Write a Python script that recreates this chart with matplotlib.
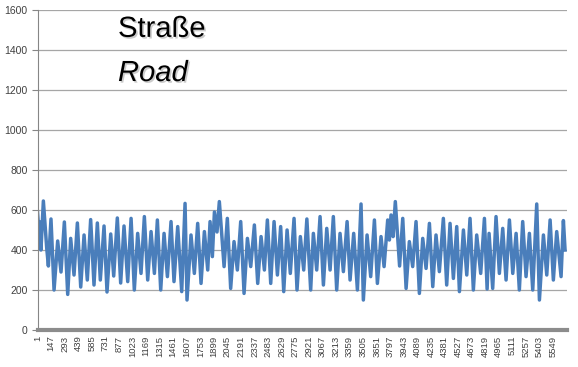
import numpy as np
import matplotlib
matplotlib.use("Agg")
import matplotlib.pyplot as plt
import matplotlib.patheffects as pe

# extremes of the series (category index, value)
ext_idx = [1, 20, 28, 38, 64, 100, 118, 146, 179, 218, 254, 290, 326, 358, 394, 430, 466, 502, 537,
           573, 609, 645, 677, 717, 749, 789, 821, 860, 896, 932,
           972, 1008, 1043, 1079, 1115, 1151, 1187, 1223, 1259, 1291, 1327, 1363, 1399, 1438, 1470,
           1510, 1553, 1589, 1610, 1653, 1689, 1725, 1761, 1797, 1833, 1858, 1883, 1905,
           1933, 1958, 2009, 2044, 2080, 2116, 2152, 2188, 2224, 2260, 2296, 2335, 2371, 2407, 2443,
           2475, 2511, 2547, 2583, 2618, 2651, 2687, 2722, 2762, 2794, 2830, 2866, 2900,
           2941, 2970, 3006, 3042, 3078, 3114, 3150, 3185, 3221, 3257, 3293, 3333, 3365, 3404, 3444,
           3483, 3508, 3548, 3587, 3627, 3659, 3698, 3731, 3770, 3788, 3806, 3828, 3852,
           3898, 3932, 3968, 4003, 4039, 4075, 4111, 4147, 4183, 4219, 4255, 4290, 4326, 4369, 4405,
           4441, 4477, 4513, 4542, 4585, 4621, 4656, 4692, 4728, 4771, 4811,
           4840, 4861, 4900, 4936, 4972, 5008, 5044, 5080, 5116, 5152, 5187, 5223, 5259, 5295, 5331,
           5374, 5403, 5446, 5482, 5518, 5553, 5589, 5636, 5661, 5679]
ext_val = [590, 470, 540, 400, 645, 410, 320, 555, 200, 445, 290, 540, 178, 458, 275, 535, 215, 475, 250,
           552, 225, 535, 250, 520, 190, 480, 270, 560, 235, 520,
           242, 558, 200, 483, 283, 567, 250, 492, 283, 550, 200, 483, 267, 542, 242,
           517, 192, 633, 150, 475, 283, 533, 233, 492, 300, 542, 367, 590,
           490, 642, 317, 558, 208, 442, 300, 542, 183, 458, 317, 525, 233, 467, 300,
           550, 233, 542, 275, 517, 192, 500, 283, 558, 200, 467, 300, 555,
           200, 483, 300, 567, 225, 508, 300, 567, 200, 483, 292, 542, 250, 483, 200,
           630, 150, 475, 267, 550, 233, 467, 317, 550, 450, 575, 467, 642,
           320, 558, 208, 442, 317, 542, 183, 458, 308, 533, 217, 475, 292, 558, 225,
           533, 258, 517, 192, 500, 275, 558, 200, 475, 283, 558,
           205, 483, 208, 567, 283, 508, 250, 550, 283, 483, 200, 542, 267, 483, 200,
           630, 150, 475, 275, 550, 250, 492, 267, 547, 400]

tick_labels = [str(v) for v in range(1, 5550, 146)]
n_cat = 5700

fig = plt.figure(figsize=(5.78, 3.67), dpi=100)
ax = fig.add_axes([0.0649, 0.1008, 0.9161, 0.872])

ax.plot(ext_idx, ext_val, color="#4a7ebb", lw=2.5, solid_joinstyle="round")

ax.set_xlim(1, n_cat)
ax.set_ylim(0, 1600)
ax.set_yticks(range(0, 1601, 200))
ax.grid(axis="y", color="#a6a6a6", lw=0.9)
ax.set_axisbelow(True)

ax.set_xticks(range(1, 5550, 146))
ax.set_xticklabels(tick_labels, rotation=90, fontsize=6.8, color="#404040",
                   family="Liberation Sans")
for lab in ax.get_yticklabels():
    lab.set_family("Liberation Sans")
ax.tick_params(axis="y", labelsize=7.5, labelcolor="#404040", length=4, color="#868686", pad=3)
ax.tick_params(axis="x", length=0, pad=4)

for side in ["top", "right"]:
    ax.spines[side].set_visible(False)
ax.spines["left"].set_color("#868686")
ax.spines["bottom"].set_color("#8c8c8c")
ax.spines["bottom"].set_linewidth(3.0)

shadow = [pe.withSimplePatchShadow(offset=(1.2, -1.2), shadow_rgbFace="#555555", alpha=0.3)]
ax.text(0.152, 0.916, "Straße", transform=ax.transAxes, fontsize=21,
        family="Liberation Sans", path_effects=shadow)
ax.text(0.152, 0.778, "Road", transform=ax.transAxes, fontsize=21, style="italic",
        family="Liberation Sans", path_effects=shadow)

fig.savefig("out.png", dpi=100)
